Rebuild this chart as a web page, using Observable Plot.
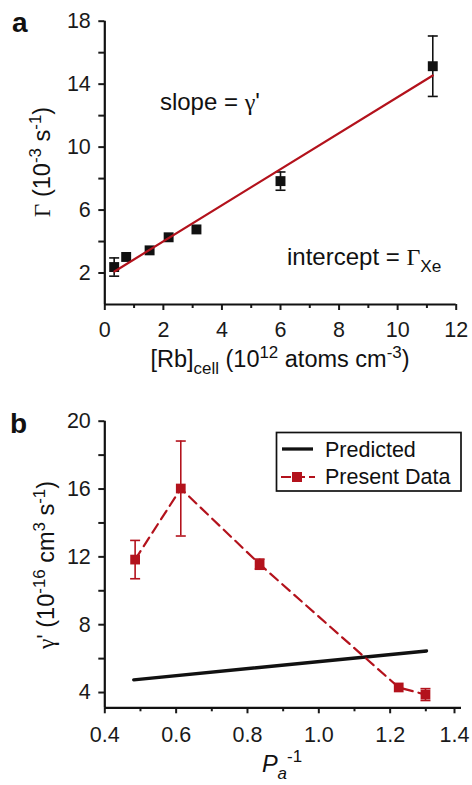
<!DOCTYPE html>
<html><head><meta charset="utf-8">
<script src="https://cdn.jsdelivr.net/npm/d3@7"></script>
<script src="https://cdn.jsdelivr.net/npm/@observablehq/plot@0.6"></script>
<style>
html,body{margin:0;padding:0;background:#fff;}
#fig{position:relative;width:472px;height:785px;overflow:hidden;font-family:"Liberation Sans",Arial,sans-serif;}
#fig svg{position:absolute;left:0;}
</style></head><body><div id="fig"></div>
<script>
// ---------- Panel a data ----------
const rbConc    = [0.32, 0.73, 1.53, 2.18, 3.13, 6.0, 11.2];
const gammaRate = [2.38, 3.02, 3.44, 4.27, 4.77, 7.84, 15.14];
const gammaErr  = [0.58, 0, 0, 0, 0, 0.58, 1.92];
const fitX = [0.33, 11.2];
const fitY = [2.1, 14.55];
const xTicksA = [0, 2, 4, 6, 8, 10, 12];
const xMinorA = [1, 3, 5, 7, 9, 11];
const yTicksA = [2, 6, 10, 14, 18];
const yMinorA = [4, 8, 12, 16];

// ---------- Panel b data ----------
const invPa         = [0.485, 0.613, 0.834, 1.224, 1.299];
const gammaPrime    = [11.84, 16.03, 11.57, 4.30, 3.88];
const gammaPrimeErr = [1.13, 2.8, 0.3, 0, 0.35];
const predX = [0.481, 1.302];
const predY = [4.75, 6.45];
const xTicksB = [0.4, 0.6, 0.8, 1.0, 1.2, 1.4];
const xMinorB = [0.5, 0.7, 0.9, 1.1, 1.3];
const yTicksB = [4, 8, 12, 16, 20];
const yMinorB = [6, 10, 14, 18];
const legendLabels = ["Predicted", "Present Data"];

const RED = "#b3121c";
const INK = "#111";
const FONT = '"Liberation Sans", Arial, Helvetica, sans-serif';
const SERIF = '"Liberation Serif", "Times New Roman", serif';
const TICK_FS = "21.5px";
const cap = {draw(ctx) { ctx.moveTo(-5, 0); ctx.lineTo(5, 0); }};

const dataA = rbConc.map((x, i) => ({x, y: gammaRate[i], e: gammaErr[i]}));
const errA = dataA.filter(d => d.e > 0);
const fitA = fitX.map((x, i) => ({x, y: fitY[i]}));

const dataB = invPa.map((x, i) => ({x, y: gammaPrime[i], e: gammaPrimeErr[i]}));
const errB = dataB.filter(d => d.e > 0);
const predB = predX.map((x, i) => ({x, y: predY[i]}));

const plotA = Plot.plot({
  width: 472, height: 390,
  marginLeft: 104.3, marginRight: 16.3, marginTop: 20.7, marginBottom: 86,
  style: {fontFamily: FONT, fontSize: TICK_FS, color: "#1a1a1a", background: "transparent", overflow: "visible"},
  x: {domain: [0, 12]},
  y: {domain: [0, 18]},
  marks: [
    Plot.axisX({ticks: xTicksA, tickSize: 6, tickPadding: 11.5, label: null, strokeWidth: 2, tickFormat: d => String(d)}),
    Plot.axisX({ticks: xMinorA, tickSize: 4, label: null, strokeWidth: 2, tickFormat: () => ""}),
    Plot.axisY({ticks: yTicksA, tickSize: 6, tickPadding: 8, label: null, strokeWidth: 2, tickFormat: d => String(d)}),
    Plot.axisY({ticks: yMinorA, tickSize: 6, label: null, strokeWidth: 2, tickFormat: () => ""}),
    Plot.ruleX([0], {y1: 0, y2: 18, stroke: INK, strokeWidth: 2.2}),
    Plot.ruleY([0], {x1: 0, x2: 12, stroke: INK, strokeWidth: 2.2}),
    Plot.ruleX(errA, {x: "x", y1: d => d.y - d.e, y2: d => d.y + d.e, stroke: INK, strokeWidth: 1.6}),
    Plot.dot(errA, {x: "x", y: d => d.y + d.e, symbol: cap, stroke: INK, strokeWidth: 1.6}),
    Plot.dot(errA, {x: "x", y: d => d.y - d.e, symbol: cap, stroke: INK, strokeWidth: 1.6}),
    Plot.dot(dataA, {x: "x", y: "y", symbol: "square", r: 5.6, fill: INK, stroke: "none"}),
    Plot.line(fitA, {x: "x", y: "y", stroke: RED, strokeWidth: 2.2})
  ]
});

const lastB = xTicksB[xTicksB.length - 1];
const plotB = Plot.plot({
  width: 472, height: 385,
  marginLeft: 104.3, marginRight: 11, marginTop: 20.7, marginBottom: 77.7,
  style: {fontFamily: FONT, fontSize: TICK_FS, color: "#1a1a1a", background: "transparent", overflow: "visible"},
  x: {domain: [0.4, 1.4]},
  y: {domain: [3.1, 20]},
  marks: [
    Plot.axisX({ticks: xTicksB.slice(0, -1), tickSize: 6, tickPadding: 12.5, label: null, strokeWidth: 2, tickFormat: d3.format(".1f")}),
    Plot.axisX({ticks: [lastB], tickSize: 6, tickPadding: 12.5, label: null, strokeWidth: 2, tickFormat: d3.format(".1f"), dx: -7}),
    Plot.axisX({ticks: xMinorB, tickSize: 4, label: null, strokeWidth: 2, tickFormat: () => ""}),
    Plot.axisY({ticks: yTicksB, tickSize: 6, tickPadding: 8, label: null, strokeWidth: 2, tickFormat: d => String(d)}),
    Plot.axisY({ticks: yMinorB, tickSize: 6, label: null, strokeWidth: 2, tickFormat: () => ""}),
    Plot.ruleX([0.4], {y1: 3.1, y2: 20, stroke: INK, strokeWidth: 2.2}),
    Plot.ruleY([3.1], {x1: 0.4, x2: 1.4, stroke: INK, strokeWidth: 2.2}),
    Plot.line(predB, {x: "x", y: "y", stroke: INK, strokeWidth: 3.3}),
    Plot.line(dataB, {x: "x", y: "y", stroke: RED, strokeWidth: 2.2, strokeDasharray: "10,6"}),
    Plot.ruleX(errB, {x: "x", y1: d => d.y - d.e, y2: d => d.y + d.e, stroke: RED, strokeWidth: 1.6}),
    Plot.dot(errB, {x: "x", y: d => d.y + d.e, symbol: cap, stroke: RED, strokeWidth: 1.6}),
    Plot.dot(errB, {x: "x", y: d => d.y - d.e, symbol: cap, stroke: RED, strokeWidth: 1.6}),
    Plot.dot(dataB, {x: "x", y: "y", symbol: "square", r: 5.5, fill: RED, stroke: "none"})
  ]
});

const fig = d3.select("#fig");
fig.append(() => plotA).style("top", "0px");
fig.append(() => plotB).style("top", "400px");

const ov = fig.append("svg").attr("width", 472).attr("height", 785)
  .style("top", "0px").style("pointer-events", "none")
  .attr("font-family", FONT).style("white-space", "pre");

function rich(x, y, parts, o = {}) {
  const size = o.size || 23.5;
  const t = ov.append("text").attr("x", x).attr("y", y).attr("font-size", size)
    .attr("text-anchor", o.anchor || "start").attr("fill", INK);
  if (o.rotate) t.attr("transform", `rotate(-90 ${x} ${y})`);
  if (o.weight) t.attr("font-weight", o.weight);
  let shift = 0;
  for (const [str, kind = "n", fam, italic] of parts) {
    const target = kind === "sup" ? -0.4 : kind === "sub" ? 0.3 : 0;
    const s = t.append("tspan").text(str);
    const dy = (target - shift) * size;
    if (Math.abs(dy) > 0.001) s.attr("dy", dy.toFixed(2));
    shift = target;
    if (kind !== "n") s.attr("font-size", (size * 0.72).toFixed(2));
    if (fam) s.attr("font-family", fam);
    if (italic) s.attr("font-style", "italic");
  }
  return t;
}

// panel letters
rich(12, 32, [["a"]], {size: 28, weight: "bold"});
rich(10, 433, [["b"]], {size: 28, weight: "bold"});

// panel a titles
rich(280, 367, [["[Rb]"], ["cell", "sub"], [" (10"], ["12", "sup"], [" atoms cm"], ["-3", "sup"], [")"]], {anchor: "middle"});
rich(50, 162, [["Γ", "n", SERIF], [" (10"], ["-3", "sup"], [" s"], ["-1", "sup"], [")"]], {anchor: "middle", rotate: true});

// panel a annotations (placed in data units through the plot's scales)
const sxA = plotA.scale("x"), syA = plotA.scale("y");
rich(sxA.apply(1.9), syA.apply(12.33), [["slope = "], ["γ", "n", SERIF], ["'"]], {size: 24});
rich(sxA.apply(6.24), syA.apply(2.48), [["intercept = "], ["Γ", "n", SERIF], ["Xe", "sub"]], {size: 24});

// panel b titles
rich(282, 771.5, [["P", "n", null, true], ["a", "sub", null, true], ["-1", "sup"]], {anchor: "middle"});
rich(54, 565, [["γ", "n", SERIF], ["' (10"], ["-16", "sup"], [" cm"], ["3", "sup"], [" s"], ["-1", "sup"], [")"]], {anchor: "middle", rotate: true});

// legend for panel b
const lg = ov.append("g");
lg.append("rect").attr("x", 276.5).attr("y", 432.5).attr("width", 184.5).attr("height", 58.5)
  .attr("fill", "#fff").attr("stroke", INK).attr("stroke-width", 1.7);
lg.append("line").attr("x1", 282).attr("x2", 313).attr("y1", 449).attr("y2", 449)
  .attr("stroke", INK).attr("stroke-width", 3.3);
lg.append("line").attr("x1", 281).attr("x2", 315).attr("y1", 477).attr("y2", 477)
  .attr("stroke", RED).attr("stroke-width", 2.2).attr("stroke-dasharray", "10,4");
lg.append("rect").attr("x", 292).attr("y", 472).attr("width", 10).attr("height", 10).attr("fill", RED);
rich(325, 456.5, [[legendLabels[0]]], {size: 21.5});
rich(325, 484, [[legendLabels[1]]], {size: 21.5});
</script>
</body></html>
